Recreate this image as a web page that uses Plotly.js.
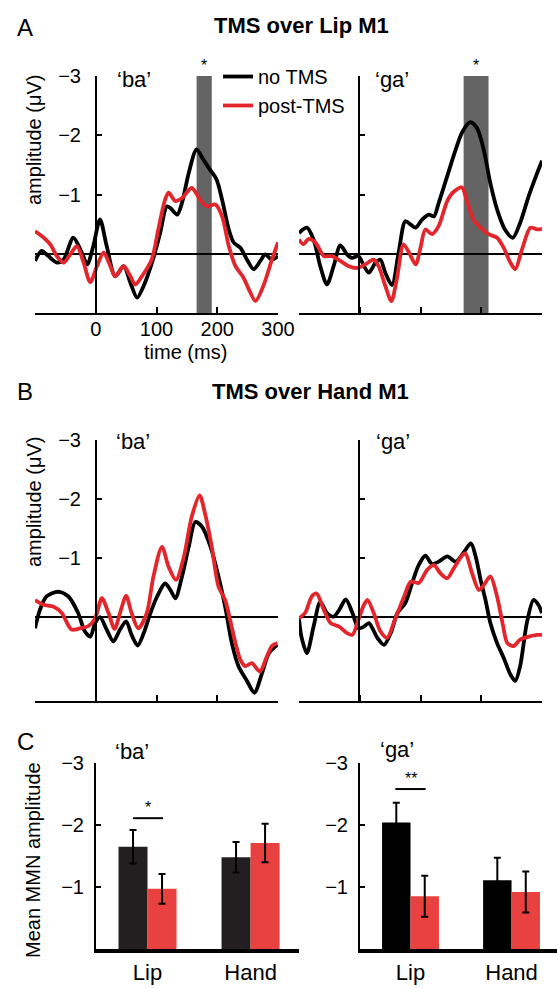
<!DOCTYPE html>
<html>
<head>
<meta charset="utf-8">
<script src="https://cdn.plot.ly/plotly-3.0.1.min.js"></script>
<style>html,body{margin:0;padding:0;background:#fff}#chart{width:557px;height:988px}</style>
</head>
<body>
<div id="chart"></div>
<script>
// ---------- DATA ----------
// Panel A: TMS over Lip M1, 'ba'
const tA_ba_noTMS = [-100,-89,-78,-64,-53,-37,-23,-14,-4,7,18,32,46,57,68,79,95,106,117,123,134,142,153,166,177,188,199,208,219,227,238,249,260,271,279,290,300];
const vA_ba_noTMS = [0.12,-0.05,0.04,0.15,0.1,-0.27,-0.02,0.18,-0.13,-0.58,-0.13,0.38,0.21,0.49,0.74,0.54,0.07,-0.35,-0.8,-0.77,-0.66,-0.86,-1.36,-1.76,-1.59,-1.42,-1.25,-0.91,-0.41,-0.19,-0.1,0.1,0.26,0.12,0.01,0.1,0.04];
const tA_ba_post = [-100,-89,-75,-64,-53,-42,-31,-20,-9,2,13,24,32,46,57,65,76,92,103,114,120,131,142,158,172,183,197,208,219,230,243,252,263,276,290,300];
const vA_ba_post = [-0.38,-0.3,-0.16,0.04,0.15,0.01,-0.13,0.15,0.48,0.21,-0.02,0.21,0.38,0.21,0.38,0.52,0.38,0.1,-0.41,-0.91,-1.03,-0.89,-0.94,-1.11,-0.91,-0.8,-0.83,-0.63,-0.13,0.21,0.4,0.6,0.8,0.54,0.1,-0.19];
// Panel A: TMS over Lip M1, 'ga'
const tA_ga_noTMS = [-100,-87,-76,-65,-54,-43,-32,-21,-13,-2,7,15,26,34,42,53,64,75,84,92,103,114,122,130,144,158,169,182,193,204,215,226,239,252,264,278,292,300];
const vA_ga_noTMS = [-0.35,-0.44,-0.24,0.21,0.52,0.21,-0.14,0.01,0.07,0.04,0.21,0.32,0.15,0.1,0.32,0.53,-0.02,-0.55,-0.49,-0.44,-0.58,-0.66,-0.63,-0.86,-1.31,-1.76,-2.06,-2.22,-2.12,-1.76,-1.19,-0.75,-0.41,-0.27,-0.52,-0.97,-1.36,-1.57];
const tA_ga_post = [-100,-93,-84,-73,-59,-46,-32,-18,-4,9,23,31,42,52,61,72,81,92,100,108,119,130,144,155,168,176,187,199,212,226,237,248,256,267,281,292,300];
const vA_ga_post = [-0.24,-0.16,-0.25,-0.19,0.04,0.04,0.12,0.21,0.24,0.18,0.1,0.21,0.54,0.8,0.43,-0.16,-0.02,0.18,-0.1,-0.41,-0.33,-0.47,-0.89,-1.05,-1.12,-0.91,-0.58,-0.44,-0.33,-0.27,-0.1,0.15,0.26,-0.07,-0.44,-0.41,-0.42];
// Significant time windows (ms)
const sigWindow_ba = [166, 191];
const sigWindow_ga = [171, 212];
// Panel B: TMS over Hand M1, 'ba'
const tB_ba_noTMS = [-100,-92,-81,-62,-45,-29,-18,-9,-1,7,18,29,40,50,59,69,79,90,101,114,123,131,142,153,164,175,189,202,213,224,235,249,261,274,285,299];
const vB_ba_noTMS = [0.19,-0.12,-0.35,-0.43,-0.35,-0.07,0.24,0.33,0.1,0,0.21,0.41,0.21,0.07,0.3,0.48,0.27,-0.07,-0.35,-0.57,-0.46,-0.32,-0.69,-1.19,-1.61,-1.53,-1.19,-0.69,-0.18,0.44,0.83,1.08,1.28,0.94,0.61,0.47];
const tB_ba_post = [-100,-86,-70,-56,-40,-26,-12,-1,10,21,31,40,50,59,70,84,95,109,120,132,145,158,171,180,191,202,213,221,230,238,246,257,270,282,290,299];
const vB_ba_post = [-0.29,-0.21,-0.18,-0.07,0.21,0.19,0.15,0.02,-0.32,-0.07,0.2,-0.07,-0.36,-0.07,0.19,-0.07,-0.69,-1.19,-0.85,-0.63,-1.02,-1.7,-2.06,-1.75,-1.19,-0.52,-0.29,0.04,0.44,0.72,0.83,0.78,0.92,0.66,0.49,0.44];
// Panel B: TMS over Hand M1, 'ga'
const tB_ga_noTMS = [-100,-96,-87,-76,-65,-54,-43,-34,-23,-12,-2,7,15,29,40,51,62,75,86,97,108,119,130,144,158,172,183,191,199,207,215,226,237,248,256,264,275,286,294,300];
const vB_ga_noTMS = [0.02,0.33,0.61,0.16,-0.26,-0.07,-0.01,-0.12,-0.3,-0.07,0.19,0.16,0.1,0.35,0.47,0.27,-0.07,-0.24,-0.57,-0.88,-1.04,-0.9,-0.94,-1.03,-0.94,-1.11,-1.25,-1.02,-0.63,-0.29,0.1,0.44,0.69,0.97,1.08,0.83,0.1,-0.29,-0.21,-0.07];
const tB_ga_post = [-100,-90,-79,-71,-59,-48,-34,-21,-12,-2,7,13,23,34,45,58,73,84,97,111,122,133,144,155,169,174,185,196,204,215,226,235,243,253,264,278,292,300];
const vB_ga_post = [0.02,-0.07,-0.35,-0.4,-0.12,0.1,0.16,0.27,0.3,0.04,-0.21,-0.29,-0.07,0.24,0.35,0.04,-0.35,-0.6,-0.58,-0.8,-0.88,-0.74,-0.66,-0.83,-1.05,-1.08,-0.74,-0.46,-0.54,-0.69,-0.35,0.1,0.44,0.49,0.38,0.33,0.3,0.3];
// Panel C: mean MMN amplitude (µV)
const conditions = ['Lip', 'Hand'];
const C_ba_noTMS = [-1.65, -1.48];
const C_ba_noTMS_err = [0.27, 0.245];
const C_ba_post = [-0.97, -1.71];
const C_ba_post_err = [0.24, 0.31];
const C_ga_noTMS = [-2.04, -1.11];
const C_ga_noTMS_err = [0.32, 0.36];
const C_ga_post = [-0.85, -0.92];
const C_ga_post_err = [0.33, 0.33];
// significance brackets in C: [x from, x to, level]
const sigC_ba = [-0.14, 0.15, -2.11];
const sigC_ga = [-0.15, 0.15, -2.58];
const yTicks = [-3, -2, -1];
const xTicks = [-100, 0, 100, 200, 300];
const xTickText = ['', '0', '100', '200', '300'];

// ---------- LAYOUT HELPERS ----------
const W = 557, H = 988;
const PX = p => p / W;
const PY = p => 1 - p / H;
const FONT = 'Liberation Sans, Arial, sans-serif';
const BLACK = '#000000', RED = '#e3262b', BARBLACK = '#231f20', BARRED = '#e8413f';

function line(x, y, color, xa, ya, name, show) {
  return {type: 'scatter', mode: 'lines', x: x, y: y, xaxis: xa, yaxis: ya, name: name,
    showlegend: show, line: {color: color, width: 3.8, shape: 'spline', smoothing: 0.8},
    hoverinfo: 'skip'};
}
function bars(y, err, color, xa, ya, name) {
  return {type: 'bar', x: conditions, y: y, xaxis: xa, yaxis: ya, name: name, showlegend: false,
    marker: {color: color, line: {width: 0}},
    error_y: {type: 'data', array: err, visible: true, color: '#000', thickness: 2, width: 3.5}};
}

const data = [
  line(tA_ba_noTMS, vA_ba_noTMS, BLACK, 'x', 'y', 'no TMS', true),
  line(tA_ba_post, vA_ba_post, RED, 'x', 'y', 'post-TMS', true),
  line(tA_ga_noTMS, vA_ga_noTMS, BLACK, 'x2', 'y2', 'no TMS', false),
  line(tA_ga_post, vA_ga_post, RED, 'x2', 'y2', 'post-TMS', false),
  line(tB_ba_noTMS, vB_ba_noTMS, BLACK, 'x3', 'y3', 'no TMS', false),
  line(tB_ba_post, vB_ba_post, RED, 'x3', 'y3', 'post-TMS', false),
  line(tB_ga_noTMS, vB_ga_noTMS, BLACK, 'x4', 'y4', 'no TMS', false),
  line(tB_ga_post, vB_ga_post, RED, 'x4', 'y4', 'post-TMS', false),
  bars(C_ba_noTMS, C_ba_noTMS_err, BARBLACK, 'x5', 'y5', 'no TMS'),
  bars(C_ba_post, C_ba_post_err, BARRED, 'x5', 'y5', 'post-TMS'),
  bars(C_ga_noTMS, C_ga_noTMS_err, BLACK, 'x6', 'y6', 'no TMS'),
  bars(C_ga_post, C_ga_post_err, BARRED, 'x6', 'y6', 'post-TMS')
];

function timeX(domL, domR, anchor, labels) {
  return {domain: [PX(domL), PX(domR)], range: [-100, 300], anchor: anchor,
    showline: true, linewidth: 2, linecolor: '#000', mirror: false,
    ticks: 'inside', ticklen: 6, tickwidth: 2, tickcolor: '#000',
    tickvals: xTicks, ticktext: xTickText, showticklabels: labels,
    ticklabelstandoff: -3,
    tickfont: {size: 20, color: '#000', family: FONT},
    showgrid: false, zeroline: false, fixedrange: true};
}
function ampY(top, bot, rng, pos, labels) {
  return {domain: [PY(bot), PY(top)], range: rng, anchor: 'free', position: PX(pos),
    showline: true, linewidth: 2, linecolor: '#000',
    ticks: 'inside', ticklen: 5, tickwidth: 2, tickcolor: '#000',
    tickvals: yTicks, showticklabels: labels, ticklabelstandoff: 10,
    tickfont: {size: 20, color: '#000', family: FONT},
    showgrid: false, zeroline: true, zerolinecolor: '#000', zerolinewidth: 1.5, fixedrange: true};
}
function catX(domL, domR, rng, anchor) {
  return {domain: [PX(domL), PX(domR)], type: 'category', range: rng, anchor: anchor,
    showline: true, linewidth: 4, linecolor: '#000', ticks: '', ticklabelstandoff: 1,
    tickfont: {size: 22, color: '#000', family: FONT}, showgrid: false, zeroline: false, fixedrange: true};
}
function barY(anchor) {
  return {domain: [PY(949), PY(763)], range: [0, -3], anchor: anchor,
    showline: true, linewidth: 2, linecolor: '#000',
    ticks: 'inside', ticklen: 5, tickwidth: 2, tickcolor: '#000',
    tickvals: yTicks, ticklabelstandoff: 6,
    tickfont: {size: 20, color: '#000', family: FONT},
    showgrid: false, zeroline: false, fixedrange: true};
}

function txt(text, x, y, size, extra) {
  return Object.assign({text: text, x: PX(x), y: PY(y), xref: 'paper', yref: 'paper',
    showarrow: false, xanchor: 'center', yanchor: 'middle',
    font: {size: size, color: '#000', family: FONT}}, extra || {});
}
function star(text, x, y, xr, yr, size) {
  return {text: text, x: x, y: y, xref: xr, yref: yr, showarrow: false,
    xanchor: 'center', yanchor: 'bottom', font: {size: size, color: '#000', family: FONT}};
}

const annotations = [
  txt('A', 25, 27, 24), txt('<b>TMS over Lip M1</b>', 301, 25, 22),
  txt('‘ba’', 134, 80, 22), txt('‘ga’', 392, 80, 22),
  txt('amplitude (μV)', 34, 140, 20, {textangle: -90}),
  txt('time (ms)', 185, 352, 20),
  txt('B', 25, 391, 24), txt('<b>TMS over Hand M1</b>', 310, 392, 22),
  txt('‘ba’', 133, 441, 22), txt('‘ga’', 393, 441, 22),
  txt('amplitude (μV)', 34, 502, 20, {textangle: -90}),
  txt('C', 25, 741, 24),
  txt('‘ba’', 132, 751, 22), txt('‘ga’', 397, 749, 22),
  txt('Mean MMN amplitude', 33, 860, 20, {textangle: -90}),
  star('*', (sigWindow_ba[0] + sigWindow_ba[1]) / 2, -3, 'x', 'y', 16),
  star('*', (sigWindow_ga[0] + sigWindow_ga[1]) / 2, -3, 'x2', 'y2', 16),
  star('*', (sigC_ba[0] + sigC_ba[1]) / 2, sigC_ba[2], 'x5', 'y5', 16),
  star('**', (sigC_ga[0] + sigC_ga[1]) / 2, sigC_ga[2], 'x6', 'y6', 16)
];

const shapes = [
  {type: 'rect', xref: 'x', yref: 'y', x0: sigWindow_ba[0], x1: sigWindow_ba[1], y0: -3, y1: 1,
    fillcolor: '#646464', line: {width: 0}, layer: 'below'},
  {type: 'rect', xref: 'x2', yref: 'y2', x0: sigWindow_ga[0], x1: sigWindow_ga[1], y0: -3, y1: 1,
    fillcolor: '#646464', line: {width: 0}, layer: 'below'},
  {type: 'line', xref: 'x5', yref: 'y5', x0: sigC_ba[0], x1: sigC_ba[1], y0: sigC_ba[2], y1: sigC_ba[2],
    line: {color: '#000', width: 2}},
  {type: 'line', xref: 'x6', yref: 'y6', x0: sigC_ga[0], x1: sigC_ga[1], y0: sigC_ga[2], y1: sigC_ga[2],
    line: {color: '#000', width: 2}}
];

const layout = {
  width: W, height: H, margin: {l: 0, r: 0, t: 0, b: 0},
  paper_bgcolor: '#fff', plot_bgcolor: 'rgba(0,0,0,0)',
  font: {family: FONT, size: 20, color: '#000'},
  showlegend: true,
  legend: {x: PX(218), y: PY(57), xanchor: 'left', yanchor: 'top', bgcolor: 'rgba(0,0,0,0)',
    font: {size: 20, family: FONT, color: '#000'}, itemwidth: 30, tracegroupgap: 0},
  barmode: 'group', bargap: 0.437, bargroupgap: 0,
  xaxis: timeX(35, 278, 'y', true),
  yaxis: ampY(76, 313, [1, -3], 96, true),
  xaxis2: timeX(299, 542, 'y2', false),
  yaxis2: ampY(76, 313, [1, -3], 359, false),
  xaxis3: timeX(35, 278, 'y3', false),
  yaxis3: ampY(440, 701, [1.42, -3], 96, true),
  xaxis4: timeX(299, 542, 'y4', false),
  yaxis4: ampY(440, 701, [1.42, -3], 359, false),
  xaxis5: catX(96, 299, [-0.5, 1.47], 'y5'),
  yaxis5: barY('x5'),
  xaxis6: catX(360, 557, [-0.5, 1.45], 'y6'),
  yaxis6: barY('x6'),
  annotations: annotations,
  shapes: shapes
};

Plotly.newPlot('chart', data, layout, {displayModeBar: false, staticPlot: true});
</script>
</body>
</html>
